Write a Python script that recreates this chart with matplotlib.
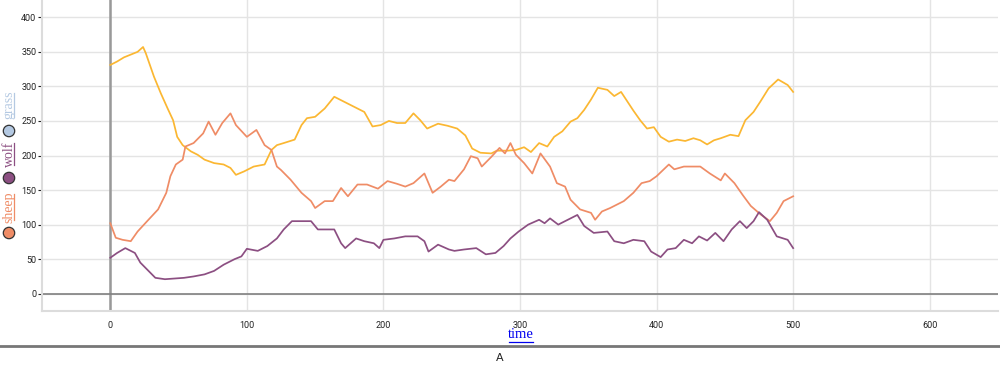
import matplotlib
matplotlib.use("Agg")
import matplotlib.pyplot as plt
from matplotlib.lines import Line2D
from matplotlib.patches import Circle

# values
grass_t = [0, 5, 10, 15, 20, 24, 26, 32, 37, 42, 46, 49, 53, 59, 64, 69, 76, 83, 88, 92,
           98, 105, 113, 118, 122, 127, 135, 140, 144, 150, 157, 164, 171, 179, 186, 192,
           198, 204, 210, 216, 222, 227, 232, 240, 247, 254, 260, 265, 271, 279, 283, 291,
           297, 303, 308, 314, 320, 325, 331, 337, 342, 347, 352, 357, 364, 369, 374, 378,
           383, 388, 393, 398, 403, 409, 415, 421, 427, 432, 437, 442, 447, 454, 460, 465,
           471, 476, 482, 489, 496, 500]
grass_v = [331, 336, 342, 346, 350, 357, 348, 314, 290, 268, 251, 227, 215, 206, 201, 194,
           189, 187, 182, 172, 177, 184, 187, 208, 215, 218, 223, 244, 254, 256, 268, 285,
           278, 270, 263, 242, 244, 250, 247, 247, 261, 251, 239, 246, 243, 239, 229, 210,
           204, 203, 207, 207, 208, 212, 205, 218, 213, 227, 235, 249, 254, 266, 281, 298,
           295, 286, 292, 280, 265, 251, 239, 241, 227, 220, 223, 221, 225, 222, 216, 222,
           225, 230, 228, 251, 263, 278, 297, 310, 302, 292]

sheep_t = [0, 4, 9, 15, 20, 27, 35, 41, 44, 48, 53, 55, 61, 68, 72, 77, 82, 88, 92, 100,
           107, 113, 118, 122, 125, 132, 140, 147, 150, 157, 163, 169, 174, 181, 188, 196,
           203, 210, 216, 222, 230, 236, 242, 248, 252, 259, 264, 269, 272, 279, 285, 289,
           293, 297, 303, 309, 315, 322, 327, 333, 337, 344, 352, 355, 360, 366, 372, 376,
           383, 389, 395, 400, 409, 413, 420, 427, 432, 439, 447, 450, 457, 463, 469, 476,
           483, 488, 493, 500]
sheep_v = [102, 81, 78, 76, 90, 105, 122, 146, 170, 187, 194, 213, 218, 232, 249, 230,
           247, 261, 244, 227, 237, 215, 208, 184, 179, 165, 146, 134, 124, 134, 134, 153,
           141, 158, 158, 152, 163, 159, 155, 160, 174, 146, 155, 165, 163, 180, 199, 196,
           184, 198, 211, 203, 218, 201, 189, 174, 203, 184, 160, 155, 136, 122, 117, 107,
           119, 124, 130, 134, 146, 160, 163, 170, 187, 180, 184, 184, 184, 174, 164, 174,
           160, 143, 127, 115, 105, 117, 134, 141]

wolf_t = [0, 5, 11, 18, 22, 27, 33, 40, 47, 54, 61, 69, 76, 83, 91, 96, 100, 108, 115, 122,
          127, 133, 140, 147, 152, 159, 164, 169, 172, 180, 186, 193, 197, 200, 208, 216,
          225, 230, 233, 240, 248, 252, 259, 268, 275, 282, 288, 293, 299, 306, 314, 318,
          322, 328, 335, 342, 347, 354, 364, 369, 376, 383, 391, 396, 403, 408, 414, 420,
          426, 431, 437, 443, 449, 455, 461, 466, 471, 475, 481, 488, 496, 500]
wolf_v = [52, 59, 66, 59, 45, 35, 23, 21, 22, 23, 25, 28, 33, 42, 50, 54, 65, 62, 69, 80,
          93, 105, 105, 105, 93, 93, 93, 73, 66, 80, 76, 73, 66, 78, 80, 83, 83, 76, 61, 71,
          64, 62, 64, 66, 57, 59, 69, 80, 90, 100, 107, 102, 109, 100, 107, 114, 98, 88, 90,
          76, 73, 78, 76, 61, 53, 64, 66, 78, 73, 83, 77, 88, 76, 93, 105, 95, 105, 118, 107,
          83, 78, 66]

c_grass = "#fbb732"
c_sheep = "#ef8c66"
c_wolf = "#8c4f82"
c_grass_key = "#b4c9e2"

W, H = 1000, 365
fig = plt.figure(figsize=(10, 3.65), dpi=100)
ax = fig.add_axes([0.042, 1 - 311 / H, 0.956, 311 / H])


def fx(x):
    return x / W


def fy(y):
    return 1 - y / H


ax.set_xlim(-50, 650)
ax.set_ylim(-25, 425)
ax.set_xticks(range(0, 700, 100))
ax.set_yticks(range(0, 450, 50))
ax.grid(color="#e4e4e4", lw=1)
ax.set_axisbelow(True)
for s in ["top", "right"]:
    ax.spines[s].set_visible(False)
for s in ["left", "bottom"]:
    ax.spines[s].set_color("#dcdcdc")
    ax.spines[s].set_linewidth(1.5)
ax.tick_params(axis="both", labelsize=6.5, colors="#222222", length=3, width=0.8, pad=1)
ax.tick_params(axis="x", length=0, pad=7)
for lab in ax.get_xticklabels() + ax.get_yticklabels():
    lab.set_family("Roboto")

ax.axvline(0, color="#999999", lw=1.8, zorder=1)
ax.axhline(0, color="#808080", lw=1.2, zorder=1)

ax.plot(grass_t, grass_v, color=c_grass, lw=1.25, zorder=3)
ax.plot(sheep_t, sheep_v, color=c_sheep, lw=1.25, zorder=3)
ax.plot(wolf_t, wolf_v, color=c_wolf, lw=1.25, zorder=3)

# x label, blue and underlined
fig.text(fx(521), fy(335), "time", color="#0000ee", fontsize=10.5,
         family="Liberation Serif", ha="center", va="center")
fig.add_artist(Line2D([fx(509), fx(533)], [fy(342), fy(342)], color="#0000ee", lw=0.9))

# vertical legend on the left
keys = [("sheep", c_sheep, 233, 207, 26),
        ("wolf", c_wolf, 178, 154, 22),
        ("grass", c_grass_key, 131, 105, 24)]
for name, col, cy, ty, tl in keys:
    fig.add_artist(Circle((9 / 100, (H - cy) / 100), 0.057, transform=fig.dpi_scale_trans,
                          facecolor=col, edgecolor="#333333", lw=0.9))
    fig.text(fx(9), fy(ty), name, color=col, fontsize=10, family="Liberation Serif",
             rotation=90, ha="center", va="center")
    fig.add_artist(Line2D([fx(14), fx(14)], [fy(ty + tl / 2), fy(ty - tl / 2)],
                          color=col, lw=0.9))

# footer
fig.add_artist(Line2D([0, 1], [fy(346), fy(346)], color="#777777", lw=2))
fig.text(0.5, fy(358), "A", fontsize=8, color="#222222", ha="center", va="center")

fig.savefig("out.png", dpi=100)
